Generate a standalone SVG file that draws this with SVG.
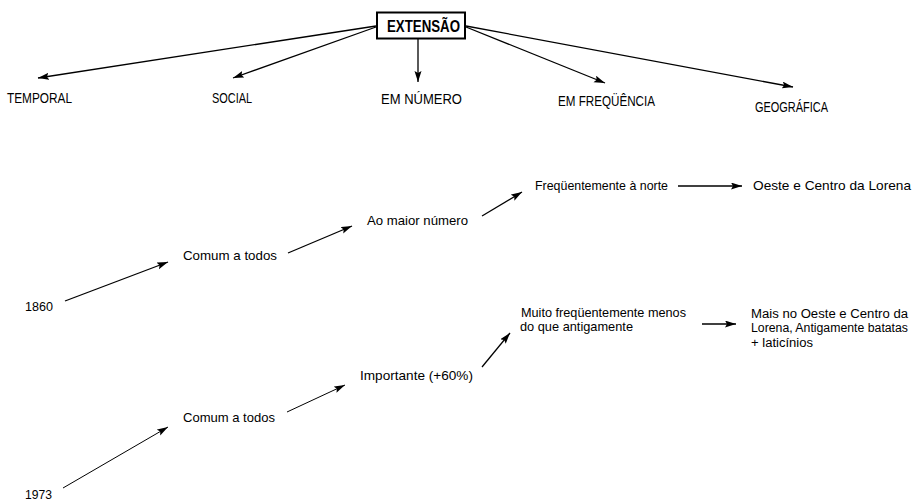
<svg xmlns="http://www.w3.org/2000/svg" width="916" height="503" viewBox="0 0 916 503">
<style>
  text { font-family: "Liberation Sans Narrow", "Liberation Sans", Arial, sans-serif; fill: #000; }
  .cap { font-size: 14px; }
  .lab { font-size: 13.5px; }
  .sm { font-size: 12.5px; }
  .title { font-size: 16px; font-weight: bold; }
  .conn line { stroke: #000; stroke-width: 1.3; marker-end: url(#ah); }
  .conn line.thin { stroke-width: 1; }
</style>
<defs>
  <marker id="ah" markerUnits="userSpaceOnUse" markerWidth="12" markerHeight="8" refX="11" refY="3.5" orient="auto">
    <path d="M0,0 L11,3.5 L0,7 L2,3.5 z" fill="#000"/>
  </marker>
</defs>
<rect width="916" height="503" fill="#fff"/>
<g id="connectors" class="conn">
  <line x1="376" y1="26" x2="38" y2="78"/>
  <line x1="376" y1="27" x2="233" y2="78"/>
  <line x1="418" y1="39" x2="418" y2="82"/>
  <line x1="466" y1="27" x2="605" y2="83"/>
  <line x1="466" y1="26" x2="793" y2="87"/>
  <line x1="65" y1="301" x2="168" y2="262"/>
  <line x1="288" y1="253" x2="352" y2="226"/>
  <line x1="482" y1="216" x2="522" y2="192"/>
  <line x1="678" y1="186" x2="742" y2="186"/>
  <line class="thin" x1="63" y1="488" x2="168" y2="427"/>
  <line class="thin" x1="287" y1="412" x2="345" y2="385"/>
  <line x1="482" y1="367" x2="510" y2="333"/>
  <line x1="702" y1="324" x2="736" y2="324"/>
</g>
<g id="extensao">
  <rect x="377" y="12.5" width="88" height="26" fill="#fff" stroke="#000" stroke-width="2"/>
  <text class="title" x="387" y="32" textLength="73" lengthAdjust="spacingAndGlyphs">EXTENSÃO</text>
</g>
<g id="temporal"><text class="cap" x="7" y="103" textLength="65" lengthAdjust="spacingAndGlyphs">TEMPORAL</text></g>
<g id="social"><text class="cap" x="212" y="103" textLength="40" lengthAdjust="spacingAndGlyphs">SOCIAL</text></g>
<g id="em-numero"><text class="cap" x="381" y="104" textLength="81" lengthAdjust="spacingAndGlyphs">EM NÚMERO</text></g>
<g id="em-frequencia"><text class="cap" x="558" y="106" textLength="97" lengthAdjust="spacingAndGlyphs">EM FREQÜÊNCIA</text></g>
<g id="geografica"><text class="cap" x="755" y="112" textLength="73" lengthAdjust="spacingAndGlyphs">GEOGRÁFICA</text></g>
<g id="y1860"><text class="lab" x="25" y="311" textLength="28" lengthAdjust="spacingAndGlyphs">1860</text></g>
<g id="comum1"><text class="lab" x="183" y="260" textLength="94" lengthAdjust="spacingAndGlyphs">Comum a todos</text></g>
<g id="ao-maior"><text class="lab" x="367" y="225" textLength="101" lengthAdjust="spacingAndGlyphs">Ao maior número</text></g>
<g id="freq-norte"><text class="lab" x="535" y="190" textLength="133" lengthAdjust="spacingAndGlyphs">Freqüentemente à norte</text></g>
<g id="oeste1"><text class="lab" x="753" y="190" textLength="158" lengthAdjust="spacingAndGlyphs">Oeste e Centro da Lorena</text></g>
<g id="y1973"><text class="lab" x="25" y="499" textLength="27" lengthAdjust="spacingAndGlyphs">1973</text></g>
<g id="comum2"><text class="lab" x="183" y="422" textLength="92" lengthAdjust="spacingAndGlyphs">Comum a todos</text></g>
<g id="importante"><text class="lab" x="360" y="380" textLength="113" lengthAdjust="spacingAndGlyphs">Importante (+60%)</text></g>
<g id="muito">
  <text class="lab" x="521" y="317" textLength="165" lengthAdjust="spacingAndGlyphs">Muito freqüentemente menos</text>
  <text class="lab" x="520" y="331" textLength="113" lengthAdjust="spacingAndGlyphs">do que antigamente</text>
</g>
<g id="mais">
  <text class="sm" x="751" y="318" textLength="157" lengthAdjust="spacingAndGlyphs">Mais no Oeste e Centro da</text>
  <text class="sm" x="751" y="332" textLength="157" lengthAdjust="spacingAndGlyphs">Lorena, Antigamente batatas</text>
  <text class="sm" x="751" y="347" textLength="62" lengthAdjust="spacingAndGlyphs">+ laticínios</text>
</g>
</svg>
